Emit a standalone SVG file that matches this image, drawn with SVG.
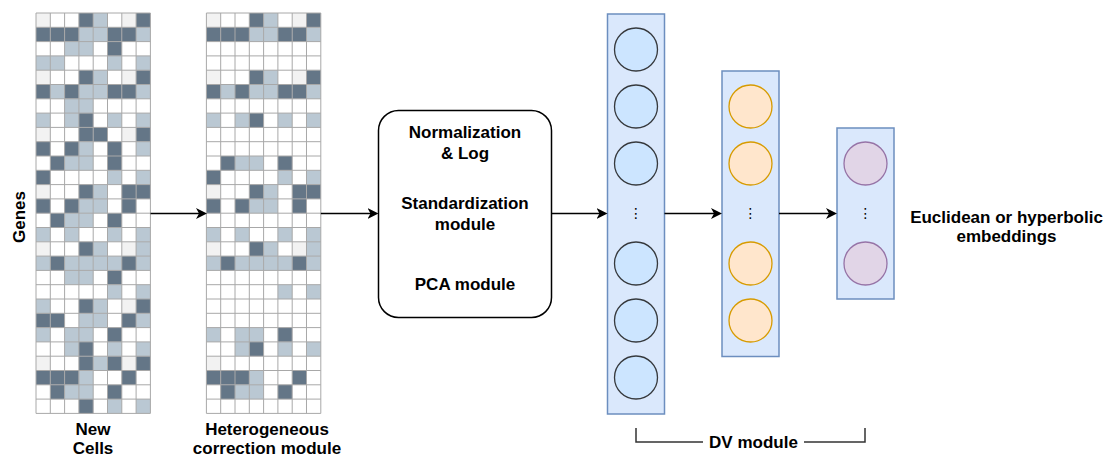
<svg xmlns="http://www.w3.org/2000/svg" xmlns:xlink="http://www.w3.org/1999/xlink" width="1108" height="458" viewBox="0 0 1108 458">
<style>
text{font-family:"Liberation Sans",Arial,sans-serif;font-weight:bold;font-size:17px;fill:#000;text-anchor:middle}
.gl{fill:none;stroke:#a8a8a8;stroke-width:1}
.conn{fill:none;stroke:#000;stroke-width:1.5}
.layer{fill:#dae8fc;stroke:#6c8ebf;stroke-width:1.5}
.n1{fill:#cce5ff;stroke:#36393d;stroke-width:1.3}
.n2{fill:#ffe6cc;stroke:#d79b00;stroke-width:1.3}
.n3{fill:#e1d5e7;stroke:#9673a6;stroke-width:1.3}
.dots{font-family:"DejaVu Sans",sans-serif;font-weight:normal;font-size:14px}
.br{fill:none;stroke:#333;stroke-width:1.5}
</style>
<defs>
<rect id="D" width="14.3" height="14.3" fill="#647687"/>
<rect id="L" width="14.3" height="14.3" fill="#bac8d3"/>
<rect id="F" width="14.3" height="14.3" fill="#f2f2f2"/>
<path id="gridlines" d="M0 0V400.4M14.3 0V400.4M28.6 0V400.4M42.9 0V400.4M57.2 0V400.4M71.5 0V400.4M85.8 0V400.4M100.1 0V400.4M114.4 0V400.4M0 0H114.4M0 14.3H114.4M0 28.6H114.4M0 42.9H114.4M0 57.2H114.4M0 71.5H114.4M0 85.8H114.4M0 100.1H114.4M0 114.4H114.4M0 128.7H114.4M0 143H114.4M0 157.3H114.4M0 171.6H114.4M0 185.9H114.4M0 200.2H114.4M0 214.5H114.4M0 228.8H114.4M0 243.1H114.4M0 257.4H114.4M0 271.7H114.4M0 286H114.4M0 300.3H114.4M0 314.6H114.4M0 328.9H114.4M0 343.2H114.4M0 357.5H114.4M0 371.8H114.4M0 386.1H114.4M0 400.4H114.4"/>
<marker id="arr" viewBox="0 0 11 11" refX="8" refY="5.5" markerWidth="11" markerHeight="11" markerUnits="userSpaceOnUse" orient="auto">
<path d="M0 0L11 5.5L0 11L3 5.5Z" fill="#000"/>
</marker>
</defs>
<rect width="1108" height="458" fill="#fff"/>

<g id="grid-new-cells" transform="translate(36,13)">
<rect width="114.4" height="400.4" fill="#fff"/>
<g><use href="#F" x="0"/><use href="#D" x="42.9"/><use href="#L" x="57.2"/><use href="#F" x="85.8"/><use href="#D" x="100.1"/></g>
<g transform="translate(0,14.3)"><use href="#D" x="0"/><use href="#D" x="14.3"/><use href="#D" x="28.6"/><use href="#L" x="42.9"/><use href="#L" x="57.2"/><use href="#D" x="71.5"/><use href="#D" x="85.8"/><use href="#L" x="100.1"/></g>
<g transform="translate(0,28.6)"><use href="#L" x="28.6"/><use href="#L" x="42.9"/><use href="#D" x="71.5"/></g>
<g transform="translate(0,42.9)"><use href="#L" x="0"/><use href="#L" x="14.3"/><use href="#L" x="71.5"/><use href="#L" x="100.1"/></g>
<g transform="translate(0,57.2)"><use href="#F" x="0"/><use href="#D" x="42.9"/><use href="#L" x="57.2"/><use href="#F" x="85.8"/><use href="#D" x="100.1"/></g>
<g transform="translate(0,71.5)"><use href="#D" x="0"/><use href="#L" x="14.3"/><use href="#D" x="28.6"/><use href="#L" x="42.9"/><use href="#L" x="57.2"/><use href="#D" x="71.5"/><use href="#D" x="85.8"/><use href="#L" x="100.1"/></g>
<g transform="translate(0,85.8)"><use href="#L" x="28.6"/><use href="#L" x="42.9"/></g>
<g transform="translate(0,100.1)"><use href="#L" x="0"/><use href="#L" x="28.6"/><use href="#D" x="42.9"/><use href="#L" x="71.5"/><use href="#L" x="100.1"/></g>
<g transform="translate(0,114.4)"><use href="#F" x="0"/><use href="#D" x="42.9"/><use href="#D" x="57.2"/><use href="#F" x="85.8"/><use href="#D" x="100.1"/></g>
<g transform="translate(0,128.7)"><use href="#D" x="0"/><use href="#D" x="28.6"/><use href="#L" x="42.9"/><use href="#D" x="71.5"/><use href="#L" x="100.1"/></g>
<g transform="translate(0,143)"><use href="#D" x="14.3"/><use href="#L" x="28.6"/><use href="#L" x="42.9"/><use href="#D" x="71.5"/></g>
<g transform="translate(0,157.3)"><use href="#D" x="0"/><use href="#L" x="71.5"/><use href="#L" x="100.1"/></g>
<g transform="translate(0,171.6)"><use href="#F" x="0"/><use href="#D" x="42.9"/><use href="#L" x="57.2"/><use href="#D" x="85.8"/><use href="#D" x="100.1"/></g>
<g transform="translate(0,185.9)"><use href="#D" x="0"/><use href="#D" x="28.6"/><use href="#L" x="42.9"/><use href="#L" x="57.2"/><use href="#D" x="85.8"/></g>
<g transform="translate(0,200.2)"><use href="#D" x="14.3"/><use href="#L" x="28.6"/><use href="#L" x="42.9"/><use href="#D" x="71.5"/></g>
<g transform="translate(0,214.5)"><use href="#L" x="0"/><use href="#L" x="28.6"/><use href="#L" x="71.5"/><use href="#L" x="100.1"/></g>
<g transform="translate(0,228.8)"><use href="#F" x="0"/><use href="#D" x="42.9"/><use href="#L" x="57.2"/><use href="#F" x="85.8"/><use href="#L" x="100.1"/></g>
<g transform="translate(0,243.1)"><use href="#L" x="0"/><use href="#D" x="14.3"/><use href="#L" x="28.6"/><use href="#L" x="42.9"/><use href="#L" x="57.2"/><use href="#L" x="71.5"/><use href="#D" x="85.8"/><use href="#L" x="100.1"/></g>
<g transform="translate(0,257.4)"><use href="#L" x="28.6"/><use href="#L" x="42.9"/><use href="#D" x="71.5"/></g>
<g transform="translate(0,271.7)"><use href="#L" x="71.5"/><use href="#L" x="100.1"/></g>
<g transform="translate(0,286)"><use href="#L" x="0"/><use href="#D" x="42.9"/><use href="#L" x="57.2"/><use href="#F" x="85.8"/><use href="#D" x="100.1"/></g>
<g transform="translate(0,300.3)"><use href="#D" x="0"/><use href="#D" x="14.3"/><use href="#L" x="42.9"/><use href="#L" x="57.2"/><use href="#D" x="85.8"/><use href="#L" x="100.1"/></g>
<g transform="translate(0,314.6)"><use href="#L" x="0"/><use href="#L" x="28.6"/><use href="#L" x="42.9"/><use href="#D" x="71.5"/></g>
<g transform="translate(0,328.9)"><use href="#L" x="28.6"/><use href="#D" x="42.9"/><use href="#L" x="71.5"/><use href="#L" x="100.1"/></g>
<g transform="translate(0,343.2)"><use href="#F" x="0"/><use href="#D" x="42.9"/><use href="#L" x="57.2"/><use href="#D" x="71.5"/><use href="#F" x="85.8"/><use href="#D" x="100.1"/></g>
<g transform="translate(0,357.5)"><use href="#D" x="0"/><use href="#D" x="14.3"/><use href="#D" x="28.6"/><use href="#L" x="42.9"/><use href="#D" x="85.8"/></g>
<g transform="translate(0,371.8)"><use href="#D" x="14.3"/><use href="#L" x="28.6"/><use href="#L" x="42.9"/><use href="#D" x="71.5"/></g>
<g transform="translate(0,386.1)"><use href="#D" x="42.9"/><use href="#L" x="71.5"/><use href="#L" x="100.1"/></g>
<use href="#gridlines" class="gl"/>
</g>

<g id="grid-corrected" transform="translate(206.4,13)">
<rect width="114.4" height="400.4" fill="#fff"/>
<g><use href="#F" x="0"/><use href="#D" x="42.9"/><use href="#L" x="57.2"/><use href="#F" x="85.8"/><use href="#D" x="100.1"/></g>
<g transform="translate(0,14.3)"><use href="#D" x="0"/><use href="#D" x="14.3"/><use href="#D" x="28.6"/><use href="#L" x="42.9"/><use href="#L" x="57.2"/><use href="#D" x="71.5"/><use href="#D" x="85.8"/><use href="#L" x="100.1"/></g>
<g transform="translate(0,57.2)"><use href="#F" x="0"/><use href="#D" x="42.9"/><use href="#L" x="57.2"/><use href="#F" x="85.8"/><use href="#D" x="100.1"/></g>
<g transform="translate(0,71.5)"><use href="#D" x="0"/><use href="#L" x="14.3"/><use href="#D" x="28.6"/><use href="#L" x="42.9"/><use href="#L" x="57.2"/><use href="#D" x="71.5"/><use href="#D" x="85.8"/><use href="#L" x="100.1"/></g>
<g transform="translate(0,100.1)"><use href="#L" x="0"/><use href="#L" x="28.6"/><use href="#D" x="42.9"/><use href="#L" x="71.5"/><use href="#L" x="100.1"/></g>
<g transform="translate(0,143)"><use href="#D" x="14.3"/><use href="#L" x="28.6"/><use href="#L" x="42.9"/><use href="#D" x="71.5"/></g>
<g transform="translate(0,157.3)"><use href="#D" x="0"/><use href="#L" x="71.5"/><use href="#L" x="100.1"/></g>
<g transform="translate(0,171.6)"><use href="#F" x="0"/><use href="#D" x="42.9"/><use href="#L" x="57.2"/><use href="#D" x="85.8"/><use href="#D" x="100.1"/></g>
<g transform="translate(0,185.9)"><use href="#D" x="0"/><use href="#D" x="28.6"/><use href="#L" x="42.9"/><use href="#L" x="57.2"/><use href="#D" x="85.8"/></g>
<g transform="translate(0,214.5)"><use href="#L" x="0"/><use href="#L" x="28.6"/><use href="#L" x="71.5"/><use href="#L" x="100.1"/></g>
<g transform="translate(0,228.8)"><use href="#F" x="0"/><use href="#D" x="42.9"/><use href="#L" x="57.2"/><use href="#F" x="85.8"/><use href="#L" x="100.1"/></g>
<g transform="translate(0,243.1)"><use href="#L" x="0"/><use href="#D" x="14.3"/><use href="#L" x="28.6"/><use href="#L" x="42.9"/><use href="#L" x="57.2"/><use href="#L" x="71.5"/><use href="#D" x="85.8"/><use href="#L" x="100.1"/></g>
<g transform="translate(0,271.7)"><use href="#L" x="71.5"/><use href="#L" x="100.1"/></g>
<g transform="translate(0,314.6)"><use href="#L" x="0"/><use href="#L" x="28.6"/><use href="#L" x="42.9"/><use href="#D" x="71.5"/></g>
<g transform="translate(0,328.9)"><use href="#L" x="28.6"/><use href="#D" x="42.9"/><use href="#L" x="71.5"/><use href="#L" x="100.1"/></g>
<g transform="translate(0,343.2)"><use href="#F" x="0"/></g>
<g transform="translate(0,357.5)"><use href="#D" x="0"/><use href="#D" x="14.3"/><use href="#D" x="28.6"/><use href="#L" x="42.9"/><use href="#D" x="85.8"/></g>
<g transform="translate(0,371.8)"><use href="#D" x="14.3"/><use href="#L" x="28.6"/><use href="#L" x="42.9"/><use href="#D" x="71.5"/></g>
<use href="#gridlines" class="gl"/>
</g>

<g id="label-genes"><text transform="translate(25,217) rotate(-90)">Genes</text></g>
<g id="label-new-cells"><text x="93" y="435">New</text><text x="93" y="454">Cells</text></g>
<g id="label-correction"><text x="267" y="435">Heterogeneous</text><text x="267" y="454">correction module</text></g>

<g id="preprocessing">
<rect x="378.5" y="110.5" width="173" height="207" rx="20" ry="20" fill="#fff" stroke="#000" stroke-width="1.5"/>
<text x="465" y="137.5">Normalization</text>
<text x="465" y="158.5">&amp; Log</text>
<text x="465" y="209">Standardization</text>
<text x="465" y="230">module</text>
<text x="465" y="290">PCA module</text>
</g>

<g id="layer1">
<rect class="layer" x="607.5" y="14" width="57" height="400"/>
<circle class="n1" cx="636" cy="49.5" r="21.5"/>
<circle class="n1" cx="636" cy="106.5" r="21.5"/>
<circle class="n1" cx="636" cy="163.5" r="21.5"/>
<text class="dots" x="636" y="218">⋮</text>
<circle class="n1" cx="636" cy="263.5" r="21.5"/>
<circle class="n1" cx="636" cy="320.5" r="21.5"/>
<circle class="n1" cx="636" cy="377.5" r="21.5"/>
</g>

<g id="layer2">
<rect class="layer" x="722" y="71" width="57" height="285.5"/>
<circle class="n2" cx="750.5" cy="106.5" r="21.5"/>
<circle class="n2" cx="750.5" cy="163.5" r="21.5"/>
<text class="dots" x="750.5" y="218">⋮</text>
<circle class="n2" cx="750.5" cy="263.5" r="21.5"/>
<circle class="n2" cx="750.5" cy="320.5" r="21.5"/>
</g>

<g id="layer3">
<rect class="layer" x="837" y="128" width="57" height="171"/>
<circle class="n3" cx="865.5" cy="163.5" r="21.5"/>
<text class="dots" x="865.5" y="218">⋮</text>
<circle class="n3" cx="865.5" cy="263.5" r="21.5"/>
</g>

<g id="label-embeddings"><text x="1006.5" y="222.5">Euclidean or hyperbolic</text><text x="1006.5" y="242">embeddings</text></g>

<g id="dv-module">
<path class="br" d="M636 428V442H703M804 442H865V428"/>
<text x="753.5" y="448">DV module</text>
</g>

<g id="connectors">
<path class="conn" d="M150.5 213.5H204" marker-end="url(#arr)"/>
<path class="conn" d="M320.8 213.5H375.5" marker-end="url(#arr)"/>
<path class="conn" d="M551.5 213.5H604.5" marker-end="url(#arr)"/>
<path class="conn" d="M664.5 213.5H719" marker-end="url(#arr)"/>
<path class="conn" d="M779 213.5H834" marker-end="url(#arr)"/>
</g>
</svg>
